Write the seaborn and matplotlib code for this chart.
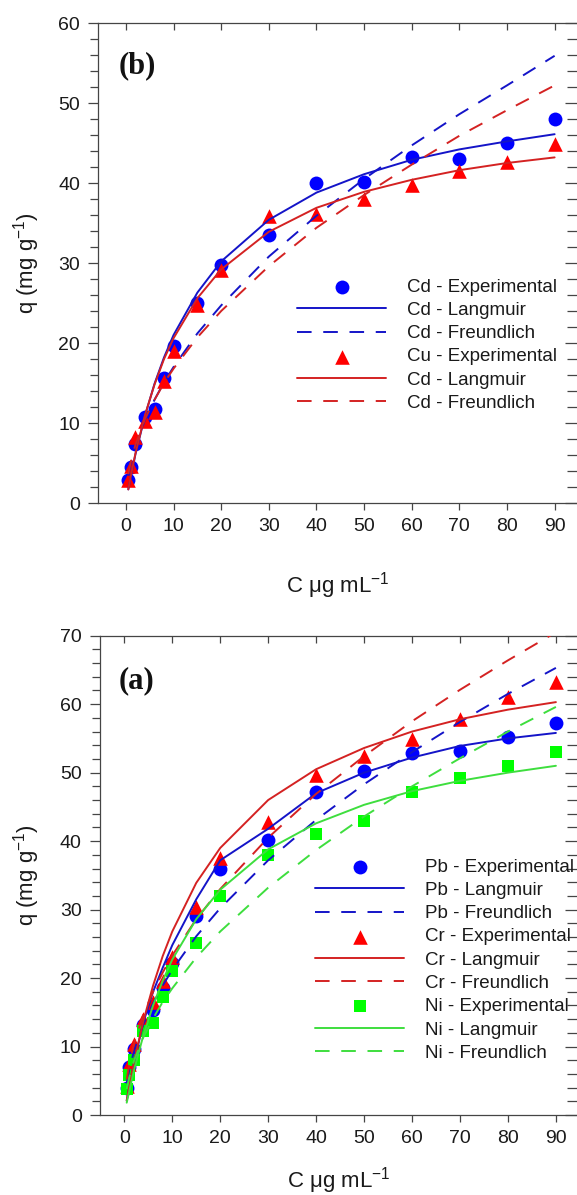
import matplotlib
matplotlib.use("Agg")
import matplotlib.pyplot as plt
import seaborn as sns
from matplotlib.ticker import MultipleLocator

# ---------------- data ----------------
conc = [0.5, 1, 2, 4, 6, 8, 10, 15, 20, 30, 40, 50, 60, 70, 80, 90]
x_ticks = [0, 10, 20, 30, 40, 50, 60, 70, 80, 90]

# panel (b)
cd_exp = [2.9, 4.5, 7.4, 10.8, 11.7, 15.6, 19.6, 25.0, 29.8, 33.5, 40.0, 40.1, 43.2, 43.0, 45.0, 48.0]
cd_lang = [1.7, 3.2, 6.1, 10.9, 14.9, 18.2, 21.0, 26.3, 30.2, 35.4, 38.8, 41.1, 42.9, 44.2, 45.2, 46.1]
cd_freu = [3.4, 4.9, 7.1, 10.4, 12.9, 15.1, 17.0, 21.2, 24.7, 30.8, 35.9, 40.5, 44.7, 48.6, 52.2, 55.9]
cu_exp = [2.9, 4.6, 8.3, 10.2, 11.4, 15.2, 19.0, 24.8, 29.1, 35.9, 36.1, 38.0, 39.7, 41.5, 42.6, 44.9]
cu_lang = [1.7, 3.3, 6.2, 11.0, 14.8, 18.0, 20.6, 25.6, 29.2, 33.9, 36.9, 38.9, 40.4, 41.6, 42.5, 43.2]
cu_freu = [3.6, 5.1, 7.3, 10.5, 12.9, 15.0, 16.8, 20.7, 24.0, 29.6, 34.4, 38.5, 42.3, 45.9, 49.1, 52.2]
labels_b = ["Cd - Experimental", "Cd - Langmuir", "Cd - Freundlich",
            "Cu - Experimental", "Cd - Langmuir", "Cd - Freundlich"]

# panel (a)
pb_exp = [4.0, 7.0, 9.7, 13.2, 15.3, 18.5, 22.2, 29.1, 36.0, 40.2, 47.1, 50.2, 52.8, 53.2, 55.2, 57.2]
pb_lang = [2.1, 4.0, 7.6, 13.6, 18.0, 21.5, 24.8, 31.5, 37.2, 41.8, 47.0, 50.0, 52.2, 53.9, 55.0, 55.8]
pb_freu = [4.6, 6.5, 9.3, 13.3, 16.3, 18.9, 21.2, 26.1, 30.2, 37.2, 43.1, 48.3, 53.0, 57.4, 61.5, 65.3]
cr_exp = [4.3, 7.5, 10.4, 14.0, 16.5, 19.5, 23.1, 30.4, 37.5, 42.8, 49.7, 52.4, 54.9, 57.8, 61.1, 63.3]
cr_lang = [2.1, 4.1, 7.7, 13.8, 18.9, 23.2, 26.8, 33.9, 39.0, 46.0, 50.5, 53.6, 56.0, 57.8, 59.2, 60.3]
cr_freu = [5.2, 7.3, 10.4, 14.7, 18.0, 20.8, 23.3, 28.6, 33.0, 40.5, 46.9, 52.4, 57.5, 62.1, 66.4, 70.5]
ni_exp = [3.8, 5.8, 8.1, 12.3, 13.5, 17.3, 21.1, 25.1, 32.0, 38.0, 41.0, 43.0, 47.1, 49.2, 51.0, 53.0]
ni_lang = [1.8, 3.4, 6.5, 11.7, 16.0, 19.6, 22.7, 28.6, 32.9, 38.8, 42.6, 45.3, 47.3, 48.8, 50.0, 51.0]
ni_freu = [3.8, 5.4, 7.9, 11.4, 14.1, 16.5, 18.5, 23.0, 26.8, 33.2, 38.7, 43.6, 48.0, 52.1, 56.0, 59.6]
labels_a = ["Pb - Experimental", "Pb - Langmuir", "Pb - Freundlich",
            "Cr - Experimental", "Cr - Langmuir", "Cr - Freundlich",
            "Ni - Experimental", "Ni - Langmuir", "Ni - Freundlich"]

# ---------------- style ----------------
sns.set_theme(style="ticks")
plt.rcParams["font.family"] = ["Liberation Sans", "DejaVu Sans"]
plt.rcParams["mathtext.fontset"] = "custom"
plt.rcParams["mathtext.rm"] = "Liberation Sans"
plt.rcParams["mathtext.it"] = "Liberation Sans:italic"
plt.rcParams["mathtext.default"] = "regular"

AX_COL = "#454545"
TXT_COL = "#1a1a1a"
BLUE_M, BLUE_L = "#0000ff", "#1414c8"
RED_M, RED_L = "#ff0000", "#d42222"
GREEN_M, GREEN_L = "#00ff00", "#3ede3e"
DASH = (0, (7.5, 6))
LW = 1.4
FS_TICK = 14
FS_LAB = 16
FS_LEG = 13.5

W, H = 577, 1195
fig = plt.figure(figsize=(W / 100, H / 100), dpi=100)


def axes_px(l, t, r, b):
    return fig.add_axes([l / W, 1 - b / H, (r - l) / W, (b - t) / H])


def draw_series(ax, exp, lang, freu, marker, size, mcol, lcol, labels):
    handles = []
    sns.scatterplot(x=conc, y=exp, ax=ax, marker=marker, s=size, color=mcol,
                    linewidth=0, label=labels[0], zorder=3, legend=False)
    handles.append(ax.collections[-1])
    sns.lineplot(x=conc, y=lang, ax=ax, color=lcol, linewidth=LW,
                 label=labels[1], zorder=4, legend=False)
    handles.append(ax.lines[-1])
    sns.lineplot(x=conc, y=freu, ax=ax, color=lcol, linewidth=LW,
                 linestyle=DASH, label=labels[2], zorder=4, legend=False)
    handles.append(ax.lines[-1])
    return handles


def style_axes(ax, xlim, ymax, xlabel_y, ylabel_x):
    ax.set_xlim(*xlim)
    ax.set_ylim(0, ymax)
    ax.set_xticks(x_ticks)
    ax.yaxis.set_major_locator(MultipleLocator(10))
    ax.yaxis.set_minor_locator(MultipleLocator(2))
    for s in ["left", "bottom", "top"]:
        ax.spines[s].set_color(AX_COL)
        ax.spines[s].set_linewidth(0.9)
    ax.spines["right"].set_visible(False)
    ax.tick_params(axis="x", which="major", direction="out", length=5,
                   width=0.9, color=AX_COL, labelsize=FS_TICK, labelcolor=TXT_COL,
                   pad=6, top=False)
    ax.tick_params(axis="y", which="major", direction="out", length=7.2,
                   width=0.9, color=AX_COL, labelsize=FS_TICK, labelcolor=TXT_COL,
                   pad=6, right=False)
    ax.tick_params(axis="y", which="minor", direction="out", length=5.5,
                   width=0.9, color=AX_COL, right=False)
    ax.set_xlabel(r"C $\mu$g mL$^{-1}$", fontsize=FS_LAB, color=TXT_COL)
    ax.set_ylabel(r"q (mg g$^{-1}$)", fontsize=FS_LAB, color=TXT_COL)
    ax.xaxis.set_label_coords(0.5, xlabel_y)
    ax.yaxis.set_label_coords(ylabel_x, 0.5)

    top = ax.secondary_xaxis("top")
    top.set_xticks(x_ticks)
    top.tick_params(direction="in", length=5, width=0.9, color=AX_COL,
                    labeltop=False)
    for s in top.spines.values():
        s.set_visible(False)

    right = ax.secondary_yaxis("right")
    right.yaxis.set_major_locator(MultipleLocator(10))
    right.yaxis.set_minor_locator(MultipleLocator(2))
    right.tick_params(which="major", direction="in", length=8.5, width=0.9,
                      color=AX_COL, labelright=False)
    right.tick_params(which="minor", direction="in", length=7, width=0.9,
                      color=AX_COL)
    for s in right.spines.values():
        s.set_visible(False)


def add_legend(ax, handles, labels, left_px, top_px):
    ax.legend(handles, labels, loc="upper left",
              bbox_to_anchor=(left_px / W, 1 - top_px / H),
              bbox_transform=fig.transFigure, frameon=False, fontsize=FS_LEG,
              handlelength=4.75, handletextpad=1.1, labelspacing=0.328,
              borderpad=0, borderaxespad=0, scatterpoints=1, labelcolor=TXT_COL)


# ---------------- panel (b) ----------------
ax_b = axes_px(98.3, 23, 577, 503)
hb = []
hb += draw_series(ax_b, cd_exp, cd_lang, cd_freu, "o", 100, BLUE_M, BLUE_L, labels_b[0:3])
hb += draw_series(ax_b, cu_exp, cu_lang, cu_freu, "^", 110, RED_M, RED_L, labels_b[3:6])
style_axes(ax_b, (-5.8, 94.7), 60, -0.14, -0.1175)
ax_b.text(-1.5, 54.6, "(b)", fontfamily="Liberation Serif", fontweight="bold",
          fontsize=22, va="center", ha="left", color="#111111")
add_legend(ax_b, hb, labels_b, 297, 278.5)

# ---------------- panel (a) ----------------
ax_a = axes_px(100, 635.7, 577, 1115)
ha = []
ha += draw_series(ax_a, pb_exp, pb_lang, pb_freu, "o", 100, BLUE_M, BLUE_L, labels_a[0:3])
ha += draw_series(ax_a, cr_exp, cr_lang, cr_freu, "^", 110, RED_M, RED_L, labels_a[3:6])
ha += draw_series(ax_a, ni_exp, ni_lang, ni_freu, "s", 85, GREEN_M, GREEN_L, labels_a[6:9])
style_axes(ax_a, (-5.07, 94.4), 70, -0.104, -0.1216)
ax_a.text(-1.1, 63.4, "(a)", fontfamily="Liberation Serif", fontweight="bold",
          fontsize=22, va="center", ha="left", color="#111111")
add_legend(ax_a, ha, labels_a, 315, 858.5)

fig.savefig("out.png", dpi=100)
